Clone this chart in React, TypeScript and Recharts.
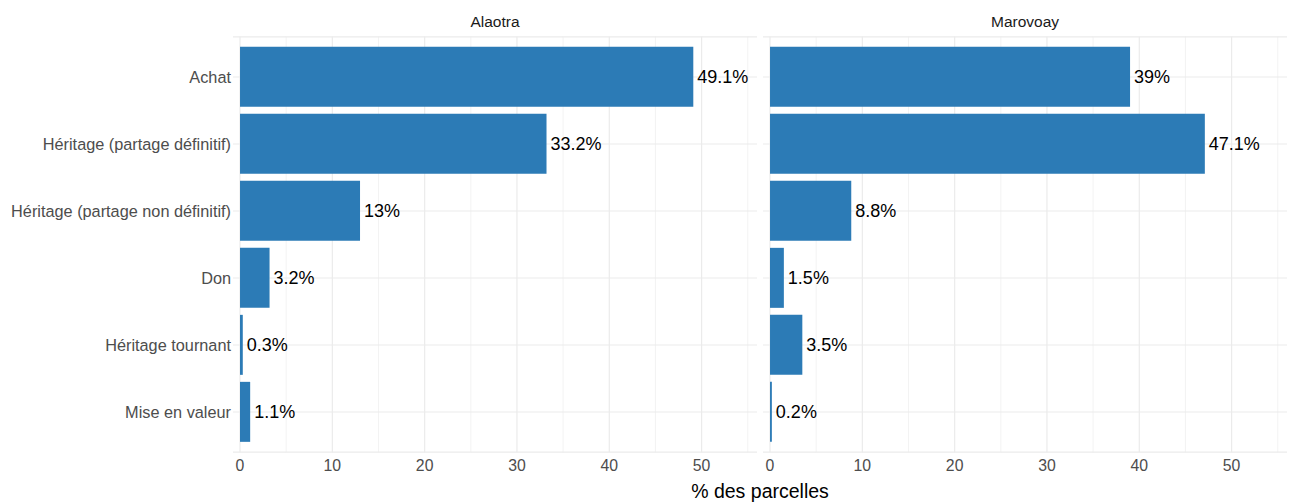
import React from 'react';
import { BarChart, Bar, XAxis, YAxis, CartesianGrid, LabelList } from 'recharts';

const CATEGORIES = [
  'Achat',
  'Héritage (partage définitif)',
  'Héritage (partage non définitif)',
  'Don',
  'Héritage tournant',
  'Mise en valeur',
];
const ALAOTRA = [49.1, 33.2, 13, 3.2, 0.3, 1.1];
const MAROVOAY = [39, 47.1, 8.8, 1.5, 3.5, 0.2];
const PANELS = ['Alaotra', 'Marovoay'];
const MAJOR_TICKS = [0, 10, 20, 30, 40, 50];
const MINOR_TICKS = [5, 15, 25, 35, 45, 55];
const X_TITLE = '% des parcelles';

const FONT = '"Liberation Sans", Arial, Helvetica, sans-serif';
const BAR_COLOR = '#2C7BB6';
const GRID = '#EBEBEB';

const H = 504;
const TOP = 36.8;
const BOTTOM = 51.8;
const Y_AXIS_W = 233;
const PANEL_W = 524;

const XTick = (props: any) => {
  const { x, y, payload } = props;
  return (
    <text x={x} y={y} dy={17} textAnchor="middle" fill="#4D4D4D" fontSize={15.8} fontFamily={FONT}>
      {payload.value}
    </text>
  );
};

const Panel = ({ values, showY }: { values: number[]; showY: boolean }) => {
  const data = CATEGORIES.map((name, i) => ({ name, value: values[i] }));
  return (
    <BarChart
      width={PANEL_W + (showY ? Y_AXIS_W : 0)}
      height={H}
      data={data}
      layout="vertical"
      margin={{ top: TOP, right: 0, bottom: BOTTOM - 30, left: 0 }}
      barCategoryGap="5%"
    >
      <CartesianGrid stroke={GRID} strokeWidth={1.2} verticalValues={MAJOR_TICKS} />
      <CartesianGrid stroke={GRID} strokeWidth={0.6} horizontal={false} verticalValues={MINOR_TICKS} />
      <XAxis
        type="number"
        domain={[-0.76, 56]}
        allowDataOverflow
        ticks={MAJOR_TICKS}
        axisLine={false}
        tickLine={false}
        tickSize={0}
        height={30}
        tick={<XTick />}
      />
      <YAxis
        type="category"
        dataKey="name"
        hide={!showY}
        width={Y_AXIS_W}
        axisLine={false}
        tickLine={false}
        tickSize={0}
        tickMargin={2}
        padding={{ top: 6.7, bottom: 6.7 }}
        tick={{ fill: '#4D4D4D', fontSize: 16.3, fontFamily: FONT }}
      />
      <Bar dataKey="value" fill={BAR_COLOR} isAnimationActive={false}>
        <LabelList
          dataKey="value"
          position="right"
          offset={4}
          formatter={(v: any) => `${v}%`}
          style={{ fill: '#000', fontSize: 18, fontFamily: FONT }}
        />
      </Bar>
    </BarChart>
  );
};

export default function App() {
  const leftPlot = Y_AXIS_W;
  const rightPlot = Y_AXIS_W + PANEL_W + 6;
  return (
    <div style={{ position: 'absolute', left: 0, top: 0, width: 1291, height: H, background: '#fff', fontFamily: FONT }}>
      <div style={{ position: 'absolute', left: 0, top: 0 }}>
        <Panel values={ALAOTRA} showY />
      </div>
      <div style={{ position: 'absolute', left: rightPlot, top: 0 }}>
        <Panel values={MAROVOAY} showY={false} />
      </div>
      {PANELS.map((p, i) => (
        <div
          key={p}
          style={{
            position: 'absolute',
            left: i === 0 ? leftPlot : rightPlot,
            width: PANEL_W,
            top: 12,
            textAlign: 'center',
            fontSize: 15.5,
            color: '#1A1A1A',
            lineHeight: '20px',
          }}
        >
          {p}
        </div>
      ))}
      <div
        style={{
          position: 'absolute',
          left: leftPlot,
          width: rightPlot + PANEL_W - leftPlot,
          top: 479,
          textAlign: 'center',
          fontSize: 19.5,
          color: '#000',
          lineHeight: '24px',
        }}
      >
        {X_TITLE}
      </div>
    </div>
  );
}
